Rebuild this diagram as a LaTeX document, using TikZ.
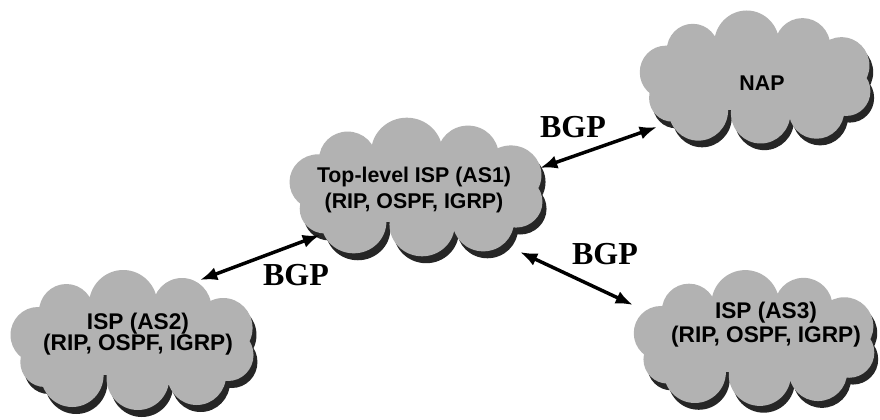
\documentclass[tikz,border=0pt]{standalone}
\usepackage{fontspec}
\usetikzlibrary{arrows.meta}
\newfontfamily\cloudfont{Liberation Sans}
\newfontfamily\bgpfont{Liberation Serif}
\definecolor{cloudgray}{gray}{0.70}
\def\cloudtop{(-10,-35) circle[radius=35] (-68,-28) circle[radius=28] (50,-32) circle[radius=30]
  (-97,-5) circle[radius=28]}
\def\cloudlow{(92,-12) circle[radius=30] (97,15) circle[radius=26]
  (-90,22) circle[radius=25] (-62,35) circle[radius=32] (5,38) circle[radius=32]
  (65,35) circle[radius=30]}
\def\cloudbody{(-95,-30) rectangle (95,35)}
\tikzset{
  pics/ispcloud/.style={code={
    \begin{scope}[shift={(4,7)}]
      \fill[black!85] \cloudlow;
      \fill[black!85] \cloudbody;
    \end{scope}
    \fill[cloudgray] \cloudtop;
    \fill[cloudgray] \cloudlow;
    \fill[cloudgray] \cloudbody;
  }}}
\begin{document}
\begin{tikzpicture}[x=0.75pt,y=-0.75pt,
  isptext/.style={align=center, inner sep=0pt, font=\cloudfont\bfseries\fontsize{16}{19}\selectfont},
  bgp/.style={font=\bgpfont\bfseries\fontsize{24}{24}\selectfont},
  link/.style={{Latex[length=13pt,width=10pt]}-{Latex[length=13pt,width=10pt]}, line width=2.6pt}]
\fill[white] (0,0) rectangle (880,420);
\useasboundingbox (0,0) rectangle (880,420);

\pic[xscale=0.93, yscale=0.95] at (756,77) {ispcloud};
\pic[xscale=1.02, yscale=0.99] at (417,187) {ispcloud};
\pic[xscale=0.98, yscale=1.0] at (133,340) {ispcloud};
\pic[xscale=0.97, yscale=0.97] at (755,338) {ispcloud};

\node[isptext] (nap) at (762,83) {NAP};
\node[isptext] (top) at (414,190) {Top-level ISP (AS1)\\(RIP, OSPF, IGRP)};
\node[isptext, font=\cloudfont\bfseries\fontsize{17}{16}\selectfont] (as2) at (138,334) {ISP (AS2)\\(RIP, OSPF, IGRP)};
\node[isptext, font=\cloudfont\bfseries\fontsize{17}{18}\selectfont] (as3) at (766,325) {ISP (AS3)\\(RIP, OSPF, IGRP)};

\node[bgp] (b1) at (573,127) {BGP};
\node[bgp] (b2) at (605,254) {BGP};
\node[bgp] (b3) at (296,275) {BGP};

\coordinate (a1s) at (540,168);
\coordinate (a1e) at (657,127);
\coordinate (a2s) at (520,252);
\coordinate (a2e) at (633,305);
\coordinate (a3s) at (200,280);
\coordinate (a3e) at (320,235);
\draw[link] (a1s) -- (a1e);
\draw[link] (a2s) -- (a2e);
\draw[link] (a3s) -- (a3e);
\end{tikzpicture}
\end{document}
